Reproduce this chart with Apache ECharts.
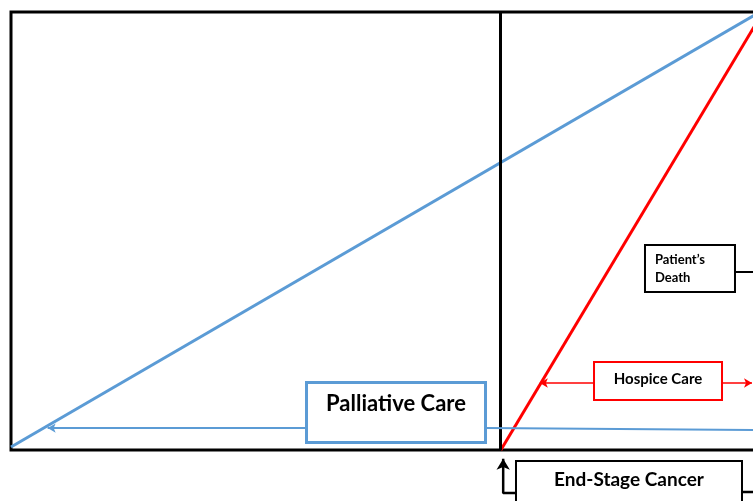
<!DOCTYPE html>
<html><head><meta charset="utf-8">
<script src="https://cdn.jsdelivr.net/npm/echarts@6/dist/echarts.min.js"></script>
<style>html,body{margin:0;padding:0;background:#fff}#c{width:753px;height:501px}</style>
</head><body><div id="c"></div>
<script>
// Conceptual timeline units: x = disease time (0-100), y = level of care (0-100)
const palliativeLine = [[0, 0.7], [96, 100]];
const hospiceLine = [[62.8, 0], [96.4, 100]];
const diagnosisX = 62.7;

const boxLabels = ['Palliative Care', 'Hospice Care', 'Patient\u2019s\nDeath', 'End-Stage Cancer'];
const boxCenters = [[49.36, 8.56], [82.95, 15.75], [87.05, 41.44], [79.23, -8.22]];
const textAnchors = [[49.36, 10.5], [82.95, 16.2], [82.56, 41.3], [79.23, -6.85]];

const bluePointer = [[37.9, 5.0], [4.7, 5.0]];
const blueTail = [[60.8, 5.0], [100, 4.5]];
const redPointerL = [[74.7, 15.3], [67.8, 15.3]];
const redPointerR = [[91.2, 15.3], [95.0, 15.3]];
const deathTail = [[92.8, 40.6], [100, 40.6]];
const stageTail = [[93.7, -9.6], [100, -9.6]];
const stageArrowPath = [[64.7, -9.8], [63.1, -9.8], [63.1, -2.0]];

const BLUE = '#5B9BD5', RED = '#FF0000', BLACK = '#000';
const FONT = 'Lato';

function seg(pts) { return [{coord: pts[0]}, {coord: pts[1]}]; }

const boxStyles = [
  {borderColor: BLUE, borderWidth: 3, width: 176, height: 57},
  {borderColor: RED, borderWidth: 2, width: 126, height: 36},
  {borderColor: BLACK, borderWidth: 2, width: 88, height: 45},
  {borderColor: BLACK, borderWidth: 2, width: 224, height: 48}
];
const textStyles = [
  {fontSize: 22, lineHeight: 26, align: 'center'},
  {fontSize: 15, lineHeight: 20, align: 'center'},
  {fontSize: 13, lineHeight: 18, align: 'left'},
  {fontSize: 19, lineHeight: 24, align: 'center'}
];

const chart = echarts.init(document.getElementById('c'));
chart.setOption({
  animation: false,
  backgroundColor: '#fff',
  grid: {left: 11, top: 12, width: 780, height: 438, outerBoundsMode: 'none', containLabel: false,
    show: true, borderColor: BLACK, borderWidth: 3, backgroundColor: 'transparent'},
  xAxis: {type: 'value', min: 0, max: 100, show: false},
  yAxis: {type: 'value', min: 0, max: 100, show: false},
  series: [
    {type: 'line', data: palliativeLine, symbol: 'none', clip: false, lineStyle: {color: BLUE, width: 3}, z: 3},
    {type: 'line', data: hospiceLine, symbol: 'none', clip: false, lineStyle: {color: RED, width: 3}, z: 3},
    {type: 'line', data: [], clip: false,
      markLine: {silent: true, symbol: 'none', label: {show: false}, animation: false,
        lineStyle: {color: BLACK, width: 3, type: 'solid'},
        data: [[{coord: [diagnosisX, 0]}, {coord: [diagnosisX, 100]}]]}},
    {type: 'line', data: [], clip: false,
      markLine: {silent: true, symbol: ['none', 'arrow'], symbolSize: [7, 8], label: {show: false}, animation: false,
        lineStyle: {color: BLUE, width: 2, type: 'solid'},
        data: [seg(bluePointer)]}},
    {type: 'line', data: [], clip: false,
      markLine: {silent: true, symbol: 'none', label: {show: false}, animation: false,
        lineStyle: {color: BLUE, width: 2, type: 'solid'},
        data: [seg(blueTail)]}},
    {type: 'line', data: [], clip: false,
      markLine: {silent: true, symbol: ['none', 'arrow'], symbolSize: [7, 8], label: {show: false}, animation: false,
        lineStyle: {color: RED, width: 1.5, type: 'solid'},
        data: [seg(redPointerL), seg(redPointerR)]}},
    {type: 'line', data: [], clip: false,
      markLine: {silent: true, symbol: 'none', label: {show: false}, animation: false,
        lineStyle: {color: BLACK, width: 2, type: 'solid'},
        data: [seg(deathTail)]}},
    {type: 'line', data: stageTail, symbol: 'none', clip: false, silent: true,
      lineStyle: {color: BLACK, width: 2.5}, z: 4},
    {type: 'line', clip: false, silent: true, z: 4,
      data: stageArrowPath.map((p, i) => (i === stageArrowPath.length - 1
        ? {value: p, symbol: 'arrow', symbolSize: [10, 11], itemStyle: {color: BLACK, borderWidth: 0}}
        : {value: p, symbol: 'none'})),
      showSymbol: true, itemStyle: {color: BLACK},
      lineStyle: {color: BLACK, width: 2.5}},
    {type: 'scatter', clip: false, symbolSize: 0, z: 10, silent: true, itemStyle: {opacity: 1},
      data: boxCenters.map((c, i) => ({
        value: c,
        label: Object.assign({show: true, position: 'inside', formatter: ' ', padding: 0, opacity: 1,
          backgroundColor: '#fff', align: 'center', verticalAlign: 'middle'}, boxStyles[i])
      }))},
    {type: 'scatter', clip: false, symbolSize: 0, z: 11, silent: true, itemStyle: {opacity: 1},
      data: textAnchors.map((c, i) => ({
        value: c,
        label: Object.assign({show: true, position: 'inside', formatter: boxLabels[i], opacity: 1,
          fontFamily: FONT, fontWeight: 'bold', color: BLACK, textBorderWidth: 0, verticalAlign: 'middle'}, textStyles[i])
      }))}
  ]
});
</script></body></html>
